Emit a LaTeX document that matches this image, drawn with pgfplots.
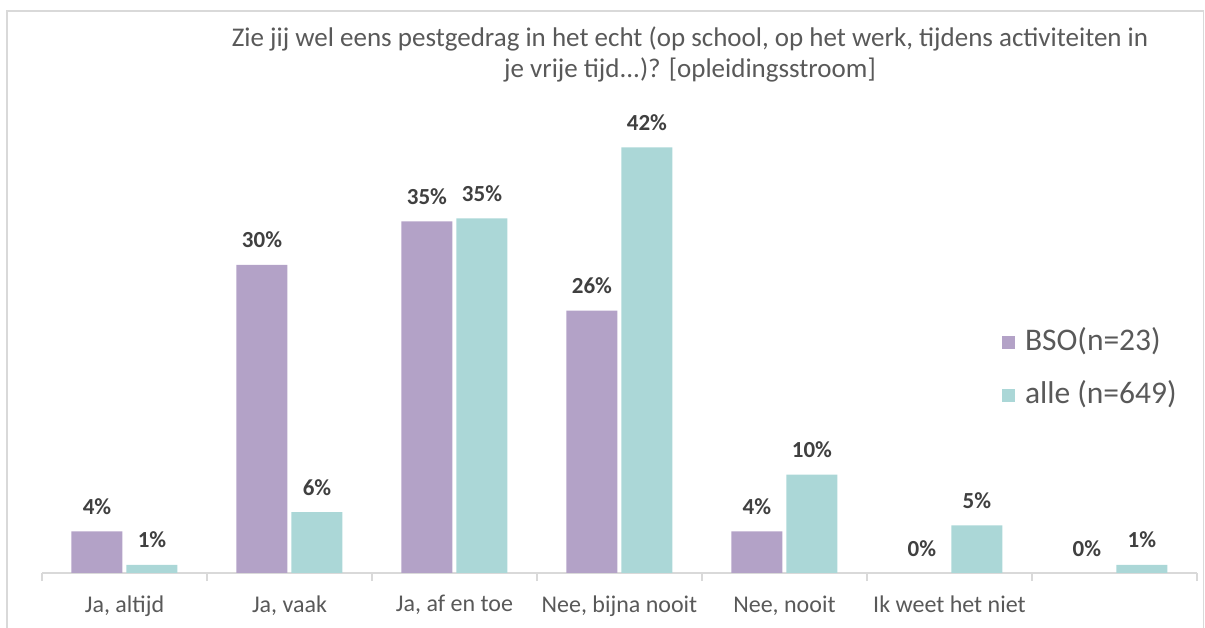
\documentclass[border=0pt]{standalone}
\usepackage{pgfplots}
\pgfplotsset{compat=1.18}
\usepackage{fontspec}
\setmainfont{Carlito}
\definecolor{bso}{HTML}{B3A2C7}
\definecolor{alle}{HTML}{ABD7D7}
\definecolor{txt}{HTML}{595959}
\definecolor{lbl}{HTML}{404040}
\definecolor{framec}{HTML}{D9D9D9}

\begin{document}
\begin{tikzpicture}
\path[use as bounding box] (0,0) rectangle (1205bp,628bp);
\draw[framec, line width=1.5bp] (7bp,0) -- (7bp,617bp) -- (1203.5bp,617bp) -- (1203.5bp,0);
\node[txt, font=\fontsize{27bp}{32bp}\selectfont, anchor=base] at (690bp,581bp)
  {Zie jij wel eens pestgedrag in het echt (op school, op het werk, tijdens activiteiten in};
\node[txt, font=\fontsize{27bp}{32bp}\selectfont, anchor=base] at (690bp,550bp)
  {je vrije tijd...)? [opleidingsstroom]};
\begin{axis}[
    at={(42bp,55bp)}, anchor=south west,
    scale only axis,
    width=1155bp, height=456bp,
    xmin=-0.5, xmax=6.5,
    ymin=0, ymax=45,
    ybar=4bp,
    bar width=51bp,
    axis y line=none,
    axis x line*=bottom,
    x axis line style={draw=framec, line width=1.5bp},
    ytick=\empty,
    xtick={-0.5,0.5,1.5,2.5,3.5,4.5,5.5,6.5},
    xticklabels={},
    tick align=outside,
    major tick length=8bp,
    major x tick style={draw=framec, line width=1.5bp},
    extra x ticks={0,1,2,3,4,5,6},
    extra x tick labels={{Ja, altijd},{Ja, vaak},{Ja, af en toe},{Nee, bijna nooit},{Nee, nooit},{Ik weet het niet},{}},
    extra x tick style={major tick length=0pt},
    xticklabel style={font=\fontsize{24bp}{28bp}\selectfont, text=txt, yshift=-19bp},
    /pgf/number format/assume math mode=true,
    point meta=y,
    nodes near coords={\pgfmathprintnumber[fixed,precision=0]{\pgfplotspointmeta}\%},
    every node near coord/.append style={font=\bfseries\fontsize{23bp}{27bp}\selectfont, text=lbl, inner sep=0pt, anchor=base, yshift=17bp},
    legend style={at={(0.8285,0.548)}, anchor=north west, draw=none, fill=none,
        font=\fontsize{31.5bp}{37bp}\selectfont, text=txt, row sep=25bp,
        /tikz/every odd column/.append style={column sep=8bp}},
    legend cell align=left,
    legend image code/.code={\fill[#1] (0bp,-9bp) rectangle (13bp,4bp);},
]
\addplot[fill=bso, draw=none] coordinates {
    (0,4.1) (1,30.4) (2,34.7) (3,25.9) (4,4.1) (5,0) (6,0)
};
\addplot[fill=alle, draw=none] coordinates {
    (0,0.8) (1,6.0) (2,35.0) (3,42.0) (4,9.7) (5,4.7) (6,0.8)
};
\legend{BSO(n=23), alle (n=649)}
\end{axis}
\end{tikzpicture}
\end{document}
